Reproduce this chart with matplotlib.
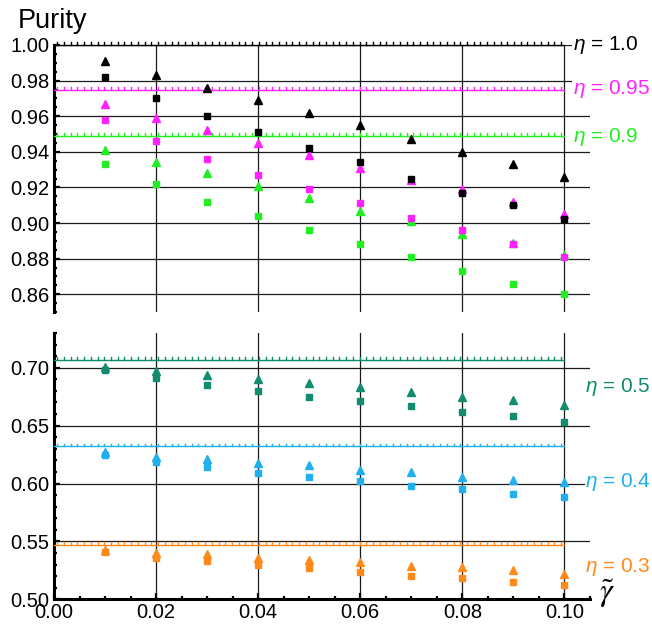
import matplotlib
matplotlib.use("Agg")
import matplotlib.pyplot as plt
import matplotlib.patheffects as pe
from matplotlib.ticker import MultipleLocator

plt.rcParams["font.family"] = ["Liberation Sans", "DejaVu Sans"]
plt.rcParams["mathtext.fontset"] = "custom"
plt.rcParams["mathtext.it"] = "Liberation Sans:italic"
plt.rcParams["mathtext.rm"] = "Liberation Sans"

GAMMA = [0.01, 0.02, 0.03, 0.04, 0.05, 0.06, 0.07, 0.08, 0.09, 0.10]

# upper panel: eta = 1.0, 0.95, 0.9
TRI_10 = [0.991, 0.983, 0.976, 0.969, 0.962, 0.955, 0.947, 0.940, 0.933, 0.926]
SQ_10 = [0.982, 0.970, 0.960, 0.951, 0.942, 0.934, 0.925, 0.917, 0.910, 0.902]
TRI_095 = [0.967, 0.959, 0.952, 0.945, 0.938, 0.931, 0.924, 0.919, 0.912, 0.905]
SQ_095 = [0.958, 0.946, 0.936, 0.927, 0.919, 0.911, 0.903, 0.896, 0.888, 0.881]
TRI_09 = [0.941, 0.934, 0.928, 0.921, 0.914, 0.907, 0.901, 0.894, 0.889, 0.882]
SQ_09 = [0.933, 0.922, 0.912, 0.904, 0.896, 0.888, 0.881, 0.873, 0.866, 0.860]

# lower panel: eta = 0.5, 0.4, 0.3
TRI_05 = [0.701, 0.697, 0.694, 0.690, 0.687, 0.683, 0.679, 0.675, 0.672, 0.668]
SQ_05 = [0.698, 0.691, 0.685, 0.680, 0.675, 0.671, 0.667, 0.662, 0.658, 0.653]
TRI_04 = [0.627, 0.623, 0.621, 0.618, 0.616, 0.612, 0.610, 0.606, 0.603, 0.601]
SQ_04 = [0.625, 0.619, 0.614, 0.609, 0.606, 0.602, 0.598, 0.595, 0.591, 0.588]
TRI_03 = [0.543, 0.540, 0.539, 0.536, 0.534, 0.532, 0.529, 0.528, 0.525, 0.522]
SQ_03 = [0.541, 0.536, 0.533, 0.530, 0.527, 0.524, 0.520, 0.518, 0.515, 0.512]

# limit levels (horizontal lines) and label positions
ETA_TOP = ["0.9", "0.95", "1.0"]
LEVEL_TOP = [0.949, 0.975, 1.0]
LABEL_Y_TOP = [0.9485, 0.975, 1.0]
ETA_BOT = ["0.3", "0.4", "0.5"]
LEVEL_BOT = [0.547, 0.632, 0.707]
LABEL_Y_BOT = [0.528, 0.6016, 0.683]

COL_TOP = ["#22ee22", "#ff22ff", "#000000"]
COL_BOT = ["#ff8a1c", "#20b0ee", "#128c6e"]

TRI_TOP = [TRI_09, TRI_095, TRI_10]
SQ_TOP = [SQ_09, SQ_095, SQ_10]
TRI_BOT = [TRI_03, TRI_04, TRI_05]
SQ_BOT = [SQ_03, SQ_04, SQ_05]

fig = plt.figure(figsize=(6.52, 6.25), dpi=100)
ax1 = fig.add_axes([0.0828, 0.5008, 0.822, 0.4272])
ax2 = fig.add_axes([0.0828, 0.0411, 0.822, 0.4261])


def style(ax, ylo, yhi, ymaj, ymin, show_x):
    ax.set_xlim(0, 0.105)
    ax.set_ylim(ylo, yhi)
    ax.xaxis.set_major_locator(MultipleLocator(0.02))
    ax.xaxis.set_minor_locator(MultipleLocator(0.005))
    ax.yaxis.set_major_locator(MultipleLocator(ymaj))
    ax.yaxis.set_minor_locator(MultipleLocator(ymin))
    ax.grid(True, which="major", color="#1a1a1a", lw=0.9)
    ax.set_axisbelow(True)
    for s in ["top", "right"]:
        ax.spines[s].set_visible(False)
    ax.spines["left"].set_linewidth(2.2)
    ax.spines["bottom"].set_linewidth(2.2)
    ax.tick_params(which="both", direction="in", width=1.6, labelsize=14.5, pad=3.5)
    ax.tick_params(which="major", length=4)
    ax.tick_params(which="minor", length=2.5)
    if not show_x:
        ax.spines["bottom"].set_visible(False)
        ax.tick_params(axis="x", which="both", bottom=False, labelbottom=False)


style(ax1, 0.85, 1.0, 0.02, 0.005, False)
style(ax2, 0.50, 0.73, 0.05, 0.01, True)
ax1.yaxis.set_major_formatter(lambda v, p: f"{v:.2f}")
ax2.yaxis.set_major_formatter(lambda v, p: f"{v:.2f}")
ax2.xaxis.set_major_formatter(lambda v, p: f"{v:.2f}")
ax2.tick_params(axis="x", pad=2.5)


def draw(ax, tris, sqs, levels, etas, label_y, cols, label_x):
    for tri, sq, lev, eta, ly, c in zip(tris, sqs, levels, etas, label_y, cols):
        ax.plot([0, 0.10], [lev, lev], color=c, lw=1.0, clip_on=False, zorder=3,
                path_effects=[pe.Normal(),
                              pe.TickedStroke(angle=90, spacing=4.8, length=0.4)])
        ax.plot(GAMMA, tri, ls="none", marker="^", ms=6, color=c, mec=c, zorder=4, clip_on=False)
        ax.plot(GAMMA, sq, ls="none", marker="s", ms=5, color=c, mec=c, zorder=4, clip_on=False)
        ax.text(label_x, ly, r"$\eta$ = " + eta, color=c, fontsize=15, ha="left", va="center",
                clip_on=False, zorder=5,
                bbox=dict(facecolor="white", edgecolor="none", pad=0.5))


draw(ax1, TRI_TOP, SQ_TOP, LEVEL_TOP, ETA_TOP, LABEL_Y_TOP, COL_TOP, 0.1016)
draw(ax2, TRI_BOT, SQ_BOT, LEVEL_BOT, ETA_BOT, LABEL_Y_BOT, COL_BOT, 0.1041)

fig.text(0.0276, 0.9547, "Purity", fontsize=19.5, ha="left", va="baseline")
fig.text(0.919, 0.05, r"$\tilde{\gamma}$", fontsize=23, ha="left", va="center",
         math_fontfamily="stix")

fig.savefig("out.png", dpi=100)
